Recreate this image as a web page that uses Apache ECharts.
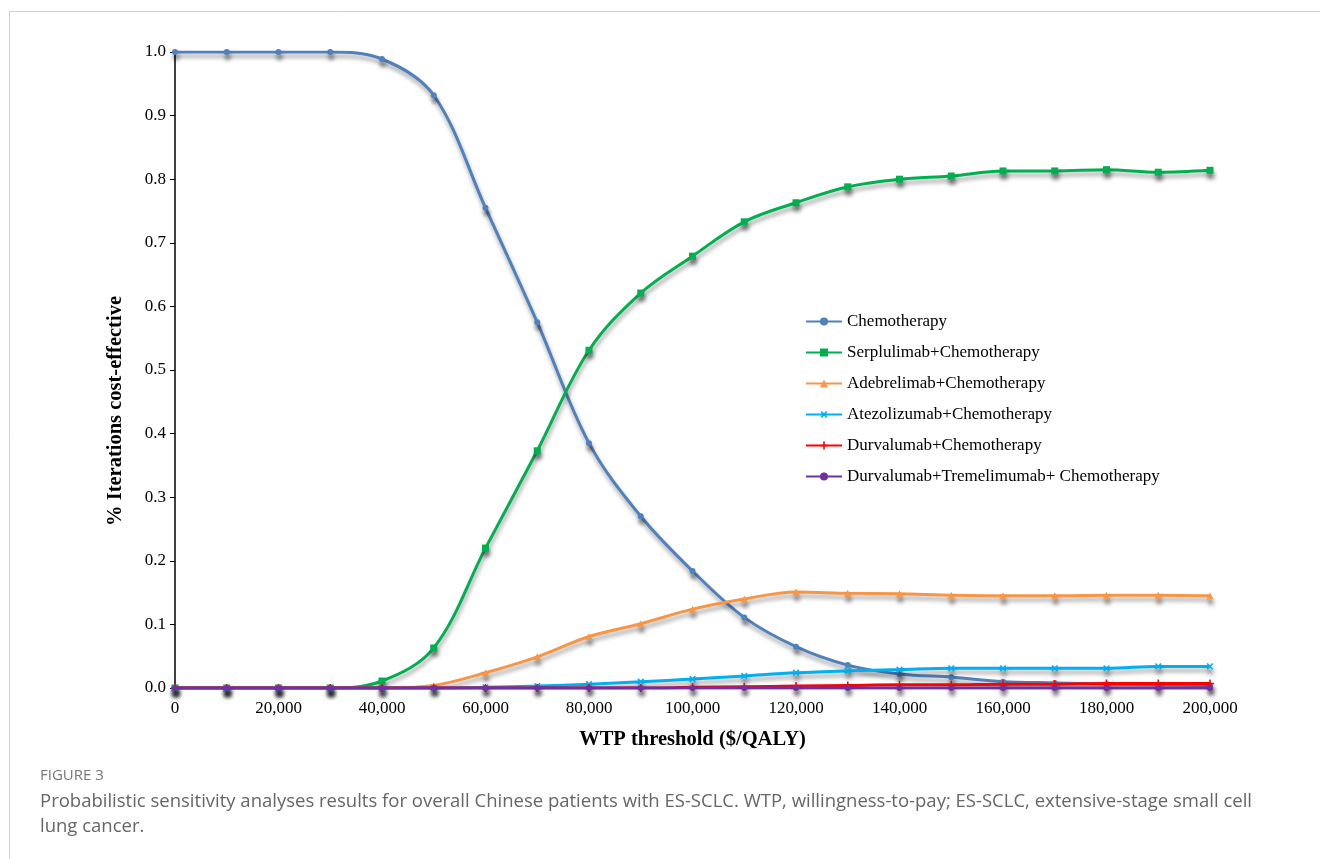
<!DOCTYPE html>
<html>
<head>
<meta charset="utf-8">
<script src="https://cdn.jsdelivr.net/npm/echarts@6/dist/echarts.min.js"></script>
<style>
html,body{margin:0;padding:0;background:#fff;}
#chart{width:1320px;height:859px;}
</style>
</head>
<body>
<div id="chart"></div>
<script>
var wtp = [0,10000,20000,30000,40000,50000,60000,70000,80000,90000,100000,110000,120000,130000,140000,150000,160000,170000,180000,190000,200000];
var seriesNames = ['Chemotherapy','Serplulimab+Chemotherapy','Adebrelimab+Chemotherapy','Atezolizumab+Chemotherapy','Durvalumab+Chemotherapy','Durvalumab+Tremelimumab+ Chemotherapy'];
var chemo       = [1.0,1.0,1.0,1.0,0.989,0.932,0.755,0.575,0.385,0.270,0.184,0.111,0.065,0.036,0.022,0.017,0.010,0.008,0.006,0.005,0.004];
var serplulimab = [0,0,0,0,0.011,0.063,0.220,0.373,0.531,0.621,0.679,0.733,0.763,0.788,0.800,0.805,0.813,0.813,0.815,0.811,0.814];
var adebrelimab = [0,0,0,0,0,0.004,0.024,0.049,0.081,0.101,0.124,0.140,0.151,0.149,0.148,0.146,0.145,0.145,0.146,0.146,0.145];
var atezolizumab= [0,0,0,0,0,0,0.001,0.003,0.006,0.010,0.014,0.019,0.024,0.027,0.029,0.031,0.031,0.031,0.031,0.034,0.034];
var durvalumab  = [0,0,0,0,0,0,0,0,0,0,0.001,0.002,0.003,0.004,0.005,0.005,0.006,0.006,0.007,0.007,0.007];
var durvaTreme  = [0,0,0,0,0,0,0,0,0,0,0,0,0,0,0,0,0,0,0,0,0];
var yTicks = [0,0.1,0.2,0.3,0.4,0.5,0.6,0.7,0.8,0.9,1.0];

var colors = ['#4f81bd','#00b050','#f79646','#00b0f0','#ff0000','#7030a0'];
var plusPath = 'path://M4,0h2v10h-2zM0,4h10v2h-10z';
var symbols = ['circle','rect','triangle',plusPath,plusPath,'circle'];
var symbolSizes = [6,7,7,8,8,6];
var symbolRot = [0,0,0,45,0,0];
var datas = [chemo,serplulimab,adebrelimab,atezolizumab,durvalumab,durvaTreme];
var serif = '"Liberation Serif","Times New Roman",serif';

var series = datas.map(function(d,i){
  return {
    name: seriesNames[i],
    type: 'line',
    data: wtp.map(function(x,j){return [x,d[j]];}),
    smooth: 0.35,
    symbol: symbols[i],
    symbolSize: symbolSizes[i],
    symbolRotate: symbolRot[i],
    showAllSymbol: true,
    z: 2 + i,
    lineStyle: {color: colors[i], width: 3, shadowColor:'rgba(0,0,0,0.38)', shadowBlur:4, shadowOffsetX:1, shadowOffsetY:4},
    itemStyle: {color: colors[i], borderWidth:0, shadowColor:'rgba(0,0,0,0.5)', shadowBlur:4, shadowOffsetX:1, shadowOffsetY:5},
    emphasis: {disabled: true}
  };
});

var chart = echarts.init(document.getElementById('chart'));
chart.setOption({
  animation: false,
  backgroundColor: '#fff',
  grid: {left:175, right:110, top:52, bottom:171, containLabel:false},
  legend: {
    orient:'vertical', left:800, top:308, itemGap:14, itemWidth:36, itemHeight:10,
    textStyle:{fontFamily:serif, fontSize:17, color:'#000'},
    data: seriesNames
  },
  xAxis: {
    type:'value', min:0, max:200000, interval:20000,
    name:'WTP threshold ($/QALY)', nameLocation:'middle', nameGap:41,
    nameTextStyle:{fontFamily:serif, fontSize:20.5, fontWeight:'bold', color:'#000'},
    axisLine:{show:true, onZero:false, lineStyle:{color:'#000', width:1.5}},
    axisTick:{show:false},
    splitLine:{show:false},
    axisLabel:{fontFamily:serif, fontSize:17, color:'#000', margin:12,
      formatter:function(v){return v.toLocaleString('en-US');}}
  },
  yAxis: {
    type:'value', min:0, max:1, interval:0.1,
    axisLine:{show:true, lineStyle:{color:'#000', width:1.5}},
    axisTick:{show:true, length:5, lineStyle:{color:'#000'}},
    splitLine:{show:false},
    axisLabel:{fontFamily:serif, fontSize:17, color:'#000', margin:9,
      formatter:function(v){return v.toFixed(1);}}
  },
  graphic: [
    {type:'rect', shape:{x:9.5,y:11.5,width:1400,height:900}, style:{fill:'none', stroke:'#cfcfcf', lineWidth:1}, silent:true, z:-1},
    {type:'text', x:116, y:411, rotation:Math.PI/2, style:{text:'% Iterations cost-effective', fontFamily:serif, fontSize:20.5, fontWeight:'bold', fill:'#000', align:'center', verticalAlign:'middle'}},
    {type:'text', left:40, top:768, style:{text:'FIGURE 3', fontFamily:'"Open Sans",sans-serif', fontSize:15, fill:'#777'}},
    {type:'text', left:40, top:789, style:{text:'Probabilistic sensitivity analyses results for overall Chinese patients with ES-SCLC. WTP, willingness-to-pay; ES-SCLC, extensive-stage small cell\nlung cancer.', fontFamily:'"Open Sans",sans-serif', fontSize:18.5, lineHeight:25, fill:'#666'}}
  ],
  series: series
});
</script>
</body>
</html>
